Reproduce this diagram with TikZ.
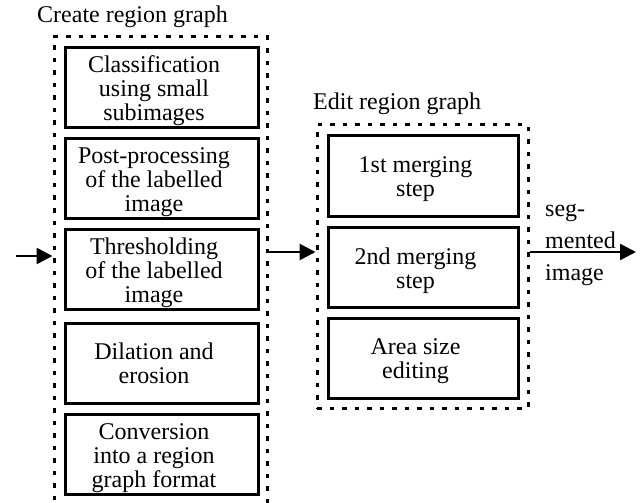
\documentclass[tikz,border=0pt]{standalone}
\usepackage{fontspec}
\setmainfont{Liberation Serif}
\usetikzlibrary{arrows.meta}
\newcommand\boxlines[1]{\begin{tabular}{@{}c@{\hspace{15pt}}}\rule{0pt}{24.8pt}#1\end{tabular}}
\tikzset{
  stepbox/.style={draw, line width=3pt, minimum width=193pt, minimum height=80pt, inner sep=0pt},
  groupbox/.style={draw, line width=3pt, dash pattern=on 4.5pt off 8pt, inner sep=0pt},
  arr/.style={line width=2.7pt, -{Triangle[length=16pt,width=16pt]}},
  lbl/.style={inner sep=0pt, anchor=base west},
}
\begin{document}
\begin{tikzpicture}[x=1pt,y=-1pt,font=\fontsize{24}{24}\selectfont]
\useasboundingbox (0,0) rectangle (641,503);
\begin{scope}
\clip (0,0) rectangle (641,503);
% group boxes
\node[groupbox, minimum width=213pt, minimum height=478pt] (cbox) at (160.5,276) {};
\node[groupbox, minimum width=211pt, minimum height=283pt] (ebox) at (422.5,266.5) {};
% titles
\node[lbl] (ctitle) at (37,23) {Create region graph};
\node[lbl] (etitle) at (313,110) {Edit region graph};
% left steps
\node[stepbox] (s1) at (161.5,87.5) {\boxlines{Classification\\using small\\subimages}};
\node[stepbox] (s2) at (161.5,178.5) {\boxlines{Post-processing\\of the labelled\\image}};
\node[stepbox] (s3) at (161.5,269.5) {\boxlines{Thresholding\\of the labelled\\image}};
\node[stepbox] (s4) at (161.5,363) {\boxlines{Dilation and\\erosion}};
\node[stepbox] (s5) at (161.5,454.5) {\boxlines{Conversion\\into a region\\graph format}};
% right steps
\node[stepbox, minimum width=190pt] (r1) at (423,176) {\boxlines{1st merging\\step}};
\node[stepbox, minimum width=190pt] (r2) at (423,267.5) {\boxlines{2nd merging\\step}};
\node[stepbox, minimum width=190pt] (r3) at (423,358) {\boxlines{Area size\\editing}};
% connectors
\coordinate (in) at (16,256);
\coordinate (mid) at (0,252);
\coordinate (out) at (636,252);
\draw[arr] (in) -- (in -| cbox.west);
\draw[arr] (cbox.east |- mid) -- (ebox.west |- mid);
\draw[arr] (ebox.east |- mid) -- (out);
% output label
\node[inner sep=0pt, anchor=north west, align=left, font=\fontsize{24}{32}\selectfont] (seg) at (545,204) {seg-\\mented\\image};
\end{scope}
\end{tikzpicture}
\end{document}
